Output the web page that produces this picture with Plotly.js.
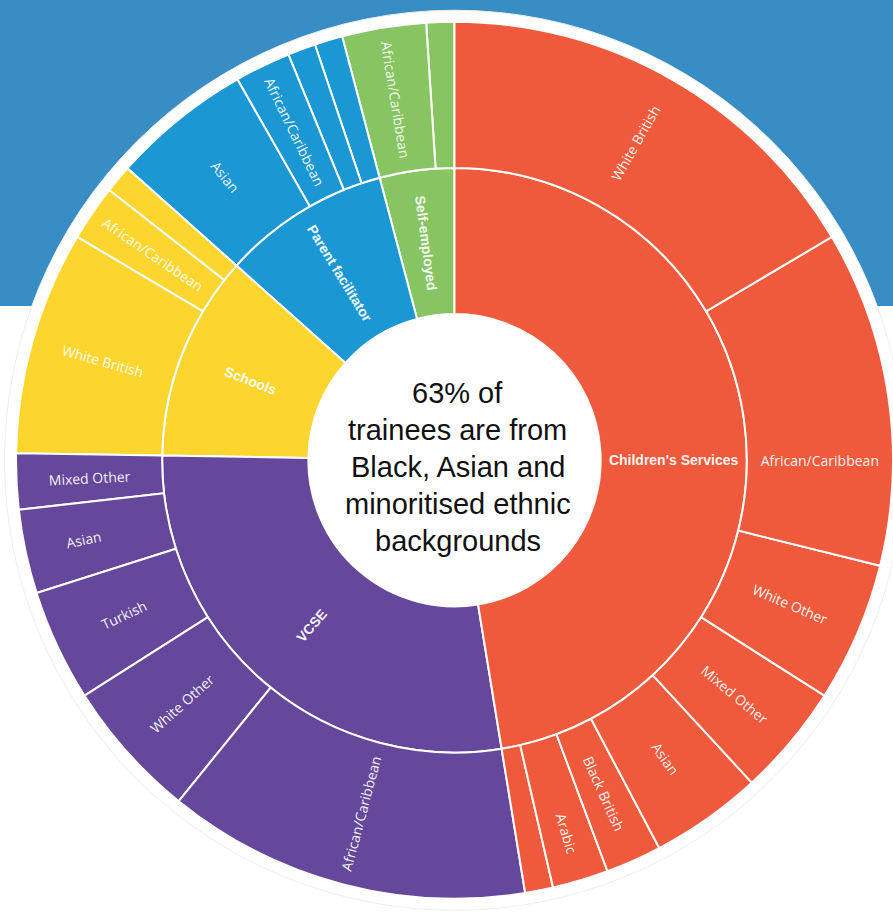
<!DOCTYPE html>
<html>
<head>
<meta charset="utf-8">
<script src="https://cdn.plot.ly/plotly-3.0.1.min.js"></script>
<style>html,body{margin:0;padding:0;background:#fff;overflow:hidden}#chart{width:893px;height:913px}</style>
</head>
<body>
<div id="chart"></div>
<script>
// ---- data (trainee counts) ----
const categories = ["Children's Services", "VCSE", "Schools", "Parent facilitator", "Self-employed"];
const categoryColors = ["#EF5A3D", "#65479B", "#FCD52E", "#1B97D4", "#86C562"];

const childrensServicesGroups = ["White British", "African/Caribbean", "White Other", "Mixed Other", "Asian", "Black British", "Arabic", "Other"];
const childrensServicesCounts = [16, 12, 5, 4, 4, 2, 2, 1];
const vcseGroups = ["African/Caribbean", "White Other", "Turkish", "Asian", "Mixed Other"];
const vcseCounts = [13, 5, 4, 3, 2];
const schoolsGroups = ["White British", "African/Caribbean", "Other"];
const schoolsCounts = [8, 2, 1];
const parentFacilitatorGroups = ["Asian", "African/Caribbean", "Other", "Other"];
const parentFacilitatorCounts = [5, 2, 1, 1];
const selfEmployedGroups = ["African/Caribbean", "Other"];
const selfEmployedCounts = [3, 1];
const unlabelledGroups = ["Other"];

const centreLines = ["63% of", "trainees are from", "Black, Asian and", "minoritised ethnic", "backgrounds"];

// ---- build the hierarchy ----
const groupLists = [childrensServicesGroups, vcseGroups, schoolsGroups, parentFacilitatorGroups, selfEmployedGroups];
const countLists = [childrensServicesCounts, vcseCounts, schoolsCounts, parentFacilitatorCounts, selfEmployedCounts];

const reverseOrder = true; // sunburst lays sectors counterclockwise
const ids = ["root"], labels = [""], parents = [""], values = [0], colors = ["#ffffff"];
const templates = [""], sizes = [12], families = ["Arial"];
let total = 0;
let catIdx = categories.map((c, i) => i);
if (reverseOrder) catIdx = catIdx.slice().reverse();
catIdx.forEach(i => {
  const cid = "c" + i;
  const sum = countLists[i].reduce((a, b) => a + b, 0);
  total += sum;
  ids.push(cid); labels.push(categories[i]); parents.push("root"); values.push(sum);
  colors.push(categoryColors[i]); templates.push("<b>%{label}</b>"); sizes.push(14); families.push("Liberation Sans, Arial, sans-serif");
  let gIdx = groupLists[i].map((g, j) => j);
  if (reverseOrder) gIdx = gIdx.slice().reverse();
  gIdx.forEach(j => {
    ids.push(cid + "g" + j); labels.push(groupLists[i][j]); parents.push(cid); values.push(countLists[i][j]);
    colors.push(categoryColors[i]);
    templates.push(unlabelledGroups.includes(groupLists[i][j]) ? "" : "%{label}");
    sizes.push(14); families.push("Open Sans, sans-serif");
  });
});
values[0] = total;

const W = 893, H = 913;
const cx = 454.5, cyTop = 460.25, ringOuter = 450;

const trace = {
  type: "sunburst",
  ids: ids, labels: labels, parents: parents, values: values,
  branchvalues: "total",
  sort: false,
  rotation: 90,
  marker: {colors: colors, line: {color: "#ffffff", width: 2}},
  leaf: {opacity: 1},
  texttemplate: templates,
  textfont: {color: "rgba(255,255,255,0.95)", size: sizes, family: families},
  insidetextorientation: "radial",
  hoverinfo: "label+value",
  domain: {x: [16 / W, 1], y: [14 / H, (H - 21.5) / H]}
};

const annotations = centreLines.map((t, k) => ({
  text: t, showarrow: false, xref: "paper", yref: "paper",
  x: 458 / W, y: 1 - (393 + k * 37) / H, xanchor: "center", yanchor: "middle",
  font: {family: "Liberation Sans, Arial, sans-serif", size: 29, color: "#111111"}
}));

const layout = {
  width: W, height: H,
  margin: {l: 0, r: 0, t: 0, b: 0},
  paper_bgcolor: "#ffffff",
  showlegend: false,
  shapes: [
    {type: "rect", xref: "paper", yref: "paper", x0: 0, x1: 1, y0: 1 - 306 / H, y1: 1,
     fillcolor: "#398DC5", line: {width: 0}, layer: "below"},
    {type: "circle", xref: "paper", yref: "paper",
     x0: (cx - ringOuter) / W, x1: (cx + ringOuter) / W,
     y0: (H - cyTop - ringOuter) / H, y1: (H - cyTop + ringOuter) / H,
     fillcolor: "#ffffff", line: {color: "#eeeeee", width: 1}, layer: "below"}
  ],
  annotations: annotations
};

Plotly.newPlot("chart", [trace], layout, {displayModeBar: false, staticPlot: true});
</script>
</body>
</html>
